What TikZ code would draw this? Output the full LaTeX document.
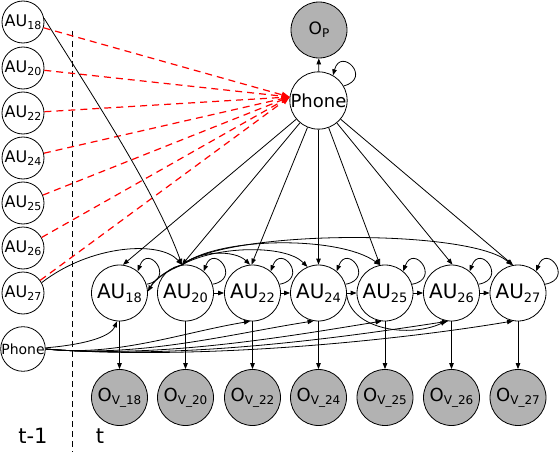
\documentclass[tikz,border=0pt]{standalone}
\usepackage{fontspec}
\setmainfont{DejaVu Sans}
\usetikzlibrary{arrows.meta}
\newcommand{\lowsub}[2]{\raisebox{-0.35ex}{\fontsize{#1}{#1}\selectfont #2}}
\tikzset{
  prevnode/.style={circle, draw, line width=0.8pt, minimum size=42pt, inner sep=0pt, font=\fontsize{16}{16}\selectfont},
  curnode/.style={circle, draw, line width=0.8pt, minimum size=56pt, inner sep=0pt, font=\fontsize{20}{20}\selectfont},
  obsnode/.style={curnode, fill=gray!60, font=\fontsize{18}{18}\selectfont},
  edge/.style={line width=0.8pt, -{Triangle[length=6pt,width=4.5pt]}},
  reddash/.style={red, line width=1.2pt, dash pattern=on 7pt off 5pt, -{Triangle[length=8pt,width=6pt]}},
  timelabel/.style={font=\fontsize{21}{21}\selectfont, inner sep=0pt}
}
\begin{document}
\begin{tikzpicture}[x=1pt,y=1pt]
\useasboundingbox (0,0) rectangle (560,-452);
% time slice t-1
\node[prevnode] (p18) at (23,-22) {AU\lowsub{11}{18}};
\node[prevnode] (p20) at (23,-68) {AU\lowsub{11}{20}};
\node[prevnode] (p22) at (23,-113) {AU\lowsub{11}{22}};
\node[prevnode] (p24) at (23,-158) {AU\lowsub{11}{24}};
\node[prevnode] (p25) at (23,-203) {AU\lowsub{11}{25}};
\node[prevnode] (p26) at (23,-248) {AU\lowsub{11}{26}};
\node[prevnode] (p27) at (23,-293) {AU\lowsub{11}{27}};
\node[prevnode, font=\fontsize{14}{14}\selectfont] (pPh) at (23,-349) {Phone};
% time slice t
\node[obsnode, font=\fontsize{17}{17}\selectfont] (OP) at (319,-30) {O\lowsub{12}{P}};
\node[curnode, font=\fontsize{18}{18}\selectfont] (Ph) at (318.5,-100.5) {Phone};
\foreach \n/\x in {18/119.5,20/185.5,22/252.5,24/318.5,25/385,26/451.5,27/518}{
  \node[curnode] (AU\n) at (\x,-293) {AU\lowsub{13}{\n}};
  \node[obsnode] (OV\n) at (\x,-397.5) {O\lowsub{12}{V\_\n}};
}
% separator and time labels
\draw[line width=0.8pt, dash pattern=on 6pt off 4pt] (72,-31) -- (72,-452);
\node[timelabel] (tm1) at (33,-436) {t-1};
\node[timelabel] (tt) at (100,-436) {t};
% red dashed influences
\foreach \s in {p18,p20,p22,p24,p25,p26,p27}{
  \draw[reddash] (\s) -- (Ph.173);
}
% Phone(t)
\draw[edge] (Ph) -- (OP);
\draw[edge] (Ph.30) .. controls +(15:30) and +(75:30) .. (Ph.60);
\draw[edge] (Ph) -- (AU18.83);
\draw[edge] (Ph) -- (AU20.97);
\draw[edge] (Ph) -- (AU22.92);
\draw[edge] (Ph) -- (AU24.90);
\draw[edge] (Ph) -- (AU25.100);
\draw[edge] (Ph) -- (AU26.88);
\draw[edge] (Ph) -- (AU27.100);
% temporal arcs from t-1
\draw[edge] (p18.10) .. controls +(-58:95) and +(110:80) .. (AU20.97);
\draw[edge] (p27.29) .. controls (90,-245) and (160,-240) .. (AU20.97);
% self loops
\foreach \n in {18,20,22,24,25,26,27}{
  \draw[edge] (AU\n.18) .. controls +(10:30) and +(70:30) .. (AU\n.50);
}
% chain
\draw[edge, line width=1.2pt] (AU20.97) .. controls +(-160:15) and +(60:15) .. (AU18.3);
\draw[edge] (AU20) -- (AU22);
\draw[edge] (AU22) -- (AU24);
\draw[edge] (AU24) -- (AU25);
\draw[edge] (AU25) -- (AU26);
\draw[edge] (AU26) -- (AU27);
% arcs over the top
\draw[edge] (AU20.97) .. controls (200,-250) and (235,-250) .. (AU22.95);
\draw[edge] (AU20.97) .. controls (215,-246) and (285,-244) .. (AU24.113);
\draw[edge] (AU20.97) .. controls (220,-236) and (340,-236) .. (AU25.100);
\draw[edge] (AU20.97) .. controls (230,-229) and (470,-229) .. (AU27.102);
% arc below
\draw[edge] (AU24.-5) .. controls (352,-330) and (410,-338) .. (AU26.-100);
% Phone(t-1) to AU(t)
\draw[edge] (pPh.3) .. controls (80,-345) and (110,-338) .. (AU18.-95);
\draw[edge] (pPh.0) .. controls (116,-357) and (180,-333) .. (AU22.-95);
\draw[edge] (pPh.0) .. controls (140,-358) and (230,-334) .. (AU24.-100);
\draw[edge] (pPh.0) .. controls (160,-359) and (290,-336) .. (AU25.-97);
\draw[edge] (pPh.0) .. controls (180,-360) and (340,-338) .. (AU26.-97);
\draw[edge] (pPh.0) .. controls (200,-361) and (400,-340) .. (AU27.-100);
% observations
\foreach \n in {18,20,22,24,25,26,27}{
  \draw[edge] (AU\n) -- (OV\n);
}
\end{tikzpicture}
\end{document}
